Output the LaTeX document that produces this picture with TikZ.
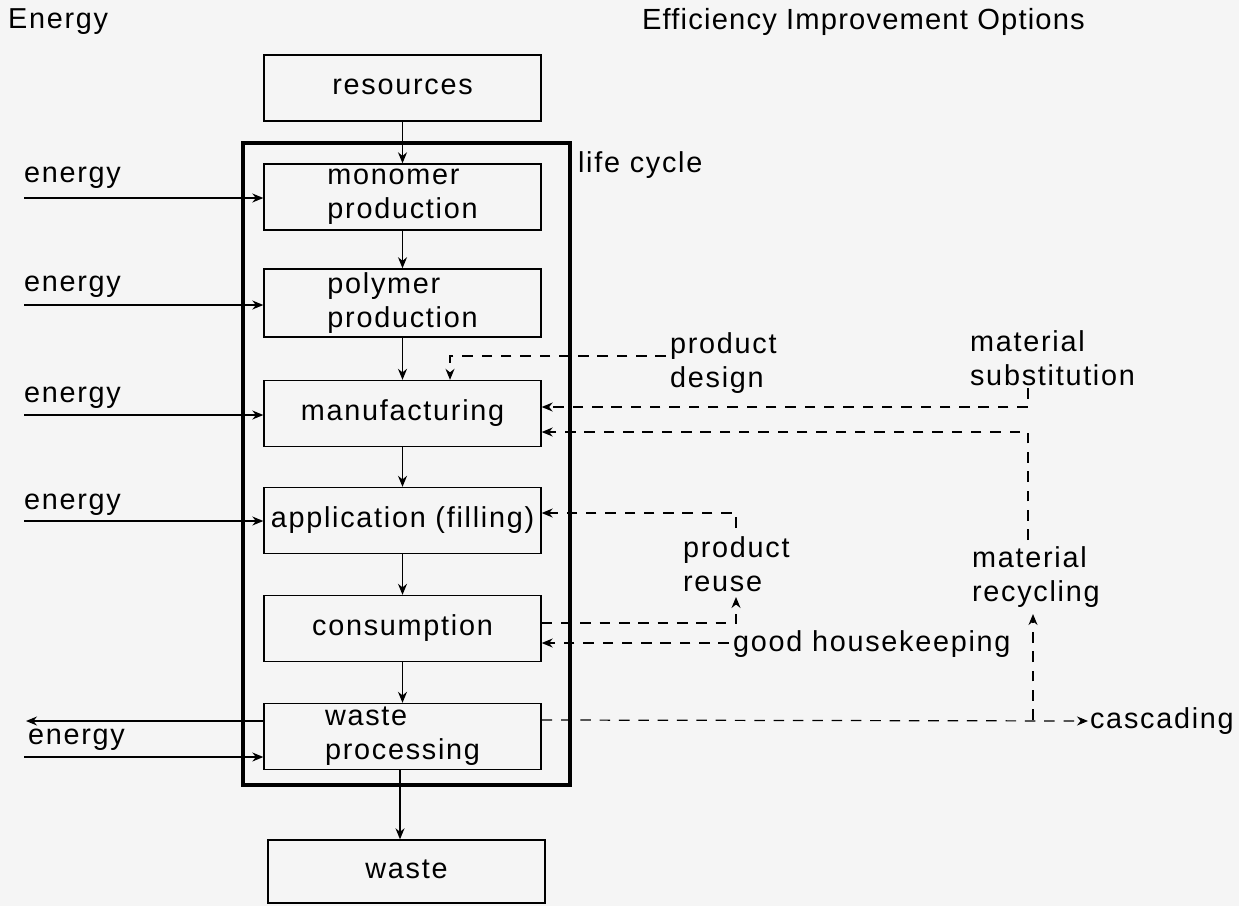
\documentclass[tikz,border=0pt]{standalone}
\usepackage{fontspec}
\setmainfont{Liberation Sans}[LetterSpace=6]
\newfontfamily\titlefont{Liberation Sans}[LetterSpace=4]
\usetikzlibrary{arrows.meta}
\begin{document}
\begin{tikzpicture}[x=0.02cm,y=-0.02cm,
  every node/.style={font=\fontsize{16.4}{19.5}\selectfont, inner sep=1pt},
  stage/.style={draw, line width=0.8pt, minimum width=5.54cm, minimum height=1.32cm, align=left, inner sep=2pt},
  lbl/.style={anchor=west, align=left},
  flow/.style={line width=0.7pt, -{Stealth[length=2.2mm,width=1.8mm]}},
  dline/.style={line width=0.7pt, dash pattern=on 6pt off 5pt},
  darr/.style={dline, -{Stealth[length=2.2mm,width=1.8mm]}}
]
\useasboundingbox (0,0) rectangle (1239,906);
\fill[white!96!black] (0,0) rectangle (1239,906);

% titles
\node[lbl] (tE) at (6,22) {Energy};
\node[lbl, font=\titlefont\fontsize{16.6}{19.5}\selectfont] (tO) at (640,22) {Efficiency Improvement Options};

% life cycle frame
\node[draw, line width=2.4pt, minimum width=6.54cm, minimum height=12.84cm, inner sep=0pt] (frame) at (406.5,464) {};
\node[lbl] (lc) at (576,165) {life cycle};

% stages
\node[stage] (res) at (402.5,88) {\strut resources};
\node[stage] (mon) at (402.5,197) {monomer\\production};
\node[stage] (pol) at (402.5,303) {polymer\\production};
\node[stage] (man) at (402.5,413.5) {\strut manufacturing};
\node[stage] (app) at (402.5,520.5) {\strut application (filling)};
\node[stage] (con) at (402.5,628.5) {\strut consumption};
\node[stage] (wp)  at (402.5,736.5) {waste\\processing};
\node[stage, minimum height=1.26cm] (was) at (406.5,871.5) {\strut waste};

% main flow
\draw[flow] (res) -- (mon);
\draw[flow] (mon) -- (pol);
\draw[flow] (pol) -- (man);
\draw[flow] (man) -- (app);
\draw[flow] (app) -- (con);
\draw[flow] (con) -- (wp);
\draw[flow] (wp.south -| 400,0) -- (was.north -| 400,0);

% energy inputs
\coordinate (e1) at (24,198);
\coordinate (e2) at (24,305);
\coordinate (e3) at (24,415);
\coordinate (e4) at (24,521);
\coordinate (e5) at (24,757);
\coordinate (eo) at (26,721);
\draw[flow] (e1) -- (e1 -| mon.west);
\draw[flow] (e2) -- (e2 -| pol.west);
\draw[flow] (e3) -- (e3 -| man.west);
\draw[flow] (e4) -- (e4 -| app.west);
\draw[flow] (e5) -- (e5 -| wp.west);
\draw[flow] (eo -| wp.west) -- (eo);
\node[lbl] (en1) at (22,178) {energy};
\node[lbl] (en2) at (22,287) {energy};
\node[lbl] (en3) at (22,398) {energy};
\node[lbl] (en4) at (22,505) {energy};
\node[lbl] (en5) at (26,740) {energy};

% option labels
\node[lbl] (pd) at (668,363) {product\\design};
\node[lbl] (ms) at (968,358) {material\\substitution};
\node[lbl] (mr) at (970,577) {material\\recycling};
\node[lbl] (pr) at (681,564) {product\\reuse};
\node[lbl] (gh) at (731,644) {good housekeeping};
\node[lbl] (ca) at (1088,721) {cascading};

% product design
\coordinate (pd1) at (666,356);
\coordinate (pd2) at (450,356);
\draw[darr] (pd1) -- (pd2) -- (pd2 |- man.north);

% material substitution
\coordinate (ms1) at (1028,388);
\coordinate (ms2) at (1028,407);
\draw[darr] (ms1) -- (ms2) -- (ms2 -| man.east);

% material recycling
\coordinate (mr1) at (1028,540);
\coordinate (mr2) at (1028,432);
\draw[darr] (mr1) -- (mr2) -- (mr2 -| man.east);

% product reuse
\coordinate (pr1) at (736,623);
\coordinate (pr2) at (736,597);
\draw[darr] (pr1 -| con.east) -- (pr1) -- (pr2);
\coordinate (pr3) at (736,528);
\coordinate (pr4) at (736,513);
\draw[darr] (pr3) -- (pr4) -- (pr4 -| app.east);

% good housekeeping
\coordinate (gh1) at (729,643);
\draw[darr] (gh1) -- (gh1 -| con.east);

% cascading
\coordinate (ca1) at (1033,720);
\draw[darr] (wp.east |- ca1) -- (ca.west);
\coordinate (ca2) at (1033,614);
\draw[darr] (ca1) -- (ca2);
\end{tikzpicture}
\end{document}
